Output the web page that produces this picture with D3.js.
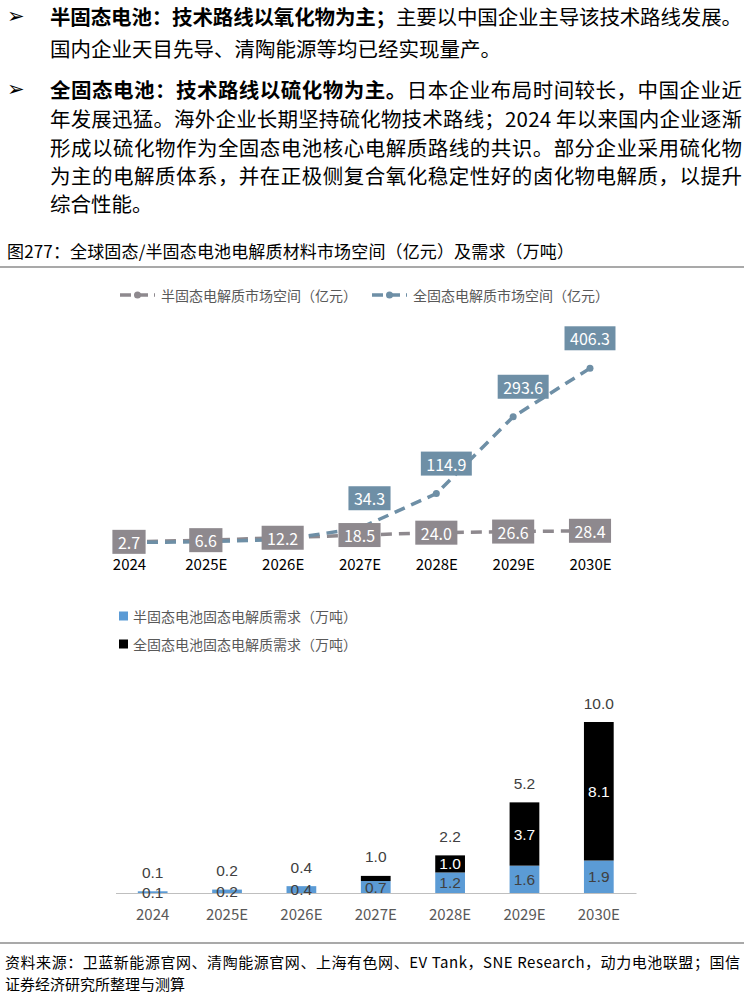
<!DOCTYPE html>
<html>
<head>
<meta charset="utf-8">
<script src="https://cdn.jsdelivr.net/npm/d3@7"></script>
<style>
	html, body { margin: 0; padding: 0; background: #fff; }
	svg { display: block; font-family: "Noto Sans CJK SC", "Noto Sans", sans-serif; }
</style>
</head>
<body>
<svg id="chart" width="744" height="1002"></svg>
<script>
// Categories
const years = ["2024", "2025E", "2026E", "2027E", "2028E", "2029E", "2030E"];

// Market size (亿元)
const semiMarket = [2.7, 6.6, 12.2, 18.5, 24.0, 26.6, 28.4];
const fullMarket = [1.0, 3.0, 8.0, 34.3, 114.9, 293.6, 406.3];

// Demand (万吨)
const semiDemand = [0.1, 0.2, 0.4, 0.7, 1.2, 1.6, 1.9];
const fullDemand = [0.0, 0.0, 0.0, 0.3, 1.0, 3.7, 8.1];
const totalDemand = [0.1, 0.2, 0.4, 1.0, 2.2, 5.2, 10.0];

// Legend names
const marketNames = ["半固态电解质市场空间（亿元）", "全固态电解质市场空间（亿元）"];
const demandNames = ["半固态电池固态电解质需求（万吨）", "全固态电池固态电解质需求（万吨）"];

// Text around the chart
const bodyLines = [
	{ bold: "半固态电池：技术路线以氧化物为主；", text: "主要以中国企业主导该技术路线发展。", justify: true },
	{ bold: "", text: "国内企业天目先导、清陶能源等均已经实现量产。", justify: false },
	{ bold: "全固态电池：技术路线以硫化物为主。", text: "日本企业布局时间较长，中国企业近", justify: true },
	{ bold: "", text: "年发展迅猛。海外企业长期坚持硫化物技术路线；2024 年以来国内企业逐渐", justify: true },
	{ bold: "", text: "形成以硫化物作为全固态电池核心电解质路线的共识。部分企业采用硫化物", justify: true },
	{ bold: "", text: "为主的电解质体系，并在正极侧复合氧化稳定性好的卤化物电解质，以提升", justify: true },
	{ bold: "", text: "综合性能。", justify: false }
];
const figureTitle = "图277：全球固态/半固态电池电解质材料市场空间（亿元）及需求（万吨）";
const sourceLines = [
	"资料来源：卫蓝新能源官网、清陶能源官网、上海有色网、EV Tank，SNE Research，动力电池联盟；国信",
	"证券经济研究所整理与测算"
];

const colours = {
	semiLine: "#8E898E",
	fullLine: "#6E8FA6",
	semiBar: "#5B9BD5",
	fullBar: "#000000",
	legendText: "#595959",
	rule: "#8C8C8C"
};

// numbers on the bars use a compact latin face
const numberFont = "Liberation Sans";

const svg = d3.select("#chart");

// ---- body text ----
const lineY = [16, 48, 89, 118, 147, 175, 203];
[0, 2].forEach((i) => {
	svg.append("text")
		.attr("x", 7).attr("y", lineY[i])
		.attr("dominant-baseline", "central")
		.style("font-family", "DejaVu Sans")
		.style("font-size", "21px")
		.style("font-weight", "bold")
		.text("➢");
});

bodyLines.forEach((line, i) => {
	let t = svg.append("text")
		.attr("x", 50).attr("y", lineY[i])
		.attr("dominant-baseline", "central")
		.style("font-size", "20.5px")
		.style("fill", "#000");
	if (line.bold) t.append("tspan").style("font-weight", "bold").text(line.bold);
	t.append("tspan").text(line.text);
	if (line.justify) t.attr("textLength", 692).attr("lengthAdjust", "spacing");
});

// ---- figure title ----
svg.append("text")
	.attr("x", 7).attr("y", 250)
	.attr("dominant-baseline", "central")
	.attr("textLength", 567).attr("lengthAdjust", "spacing")
	.style("font-size", "17px")
	.text(figureTitle);

svg.append("line")
	.attr("x1", 0).attr("x2", 744).attr("y1", 267).attr("y2", 267)
	.attr("stroke", colours.rule).attr("stroke-width", 1.5);

// ---- line chart: market size ----
const xLine = d3.scalePoint().domain(years).range([129, 590]);
const yLine = d3.scaleLinear().domain([0, 450]).range([543, 349.5]);

const lineGen = d3.line()
	.x((d, i) => xLine(years[i]))
	.y((d) => yLine(d));

const dash = "11,7";

// Legend for the lines
const lineLegend = [
	{ name: marketNames[0], colour: colours.semiLine, x: 120 },
	{ name: marketNames[1], colour: colours.fullLine, x: 372 }
];
lineLegend.forEach((item) => {
	let g = svg.append("g").attr("transform", `translate(${item.x}, 295)`);
	g.append("line")
		.attr("x1", 0).attr("x2", 35).attr("y1", 0).attr("y2", 0)
		.attr("stroke", item.colour).attr("stroke-width", 3.5)
		.attr("stroke-dasharray", "11,6");
	g.append("circle").attr("cx", 17.5).attr("cy", 0).attr("r", 3.5).attr("fill", item.colour);
	g.append("text")
		.attr("x", 41).attr("y", 0)
		.attr("dominant-baseline", "central")
		.style("font-size", "14px")
		.style("fill", colours.legendText)
		.text(item.name);
});

// semi line first, full line on top
svg.append("path")
	.datum(semiMarket)
	.attr("d", lineGen)
	.attr("fill", "none")
	.attr("stroke", colours.semiLine)
	.attr("stroke-width", 3.5)
	.attr("stroke-dasharray", dash);

svg.append("path")
	.datum(fullMarket)
	.attr("d", lineGen)
	.attr("fill", "none")
	.attr("stroke", colours.fullLine)
	.attr("stroke-width", 3.5)
	.attr("stroke-dasharray", dash);

svg.append("g")
	.selectAll("circle")
	.data(fullMarket)
	.enter()
	.append("circle")
	.attr("cx", (d, i) => xLine(years[i]))
	.attr("cy", (d) => yLine(d))
	.attr("r", 3.5)
	.attr("fill", colours.fullLine);

// Boxed value labels
function boxLabel(parent, cx, cy, value, fill) {
	let g = parent.append("g").attr("transform", `translate(${cx}, ${cy})`);
	let rect = g.append("rect").attr("fill", fill);
	let txt = g.append("text")
		.attr("text-anchor", "middle")
		.attr("dominant-baseline", "central")
		.style("font-size", "16px")
		.style("fill", "#fff")
		.text(value.toFixed(1));
	let w = txt.node().getComputedTextLength() + 11;
	rect.attr("x", -w / 2).attr("y", -12).attr("width", w).attr("height", 24);
}

const labelLayer = svg.append("g");
semiMarket.forEach((v, i) => {
	boxLabel(labelLayer, xLine(years[i]), yLine(v), v, colours.semiLine);
});
fullMarket.forEach((v, i) => {
	// full labels only where they sit clear of the semi line
	if (v <= semiMarket[i]) return;
	let dx = i === years.length - 1 ? 0 : 10;
	boxLabel(labelLayer, xLine(years[i]) + dx, yLine(v) - 30, v, colours.fullLine);
});

const lineAxis = svg.append("g")
	.attr("transform", "translate(0, 563)")
	.call(d3.axisBottom(xLine).tickSize(0).tickPadding(0));
lineAxis.select(".domain").remove();
lineAxis.selectAll("text")
	.attr("y", 0).attr("dy", null)
	.attr("dominant-baseline", "central")
	.style("font-family", "Noto Sans CJK SC")
	.style("font-size", "15px")
	.style("fill", "#000");

// ---- bar chart: demand ----
const demandRows = years.map((year, i) => ({ year: year, semi: semiDemand[i], full: fullDemand[i] }));
const stacked = d3.stack().keys(["semi", "full"])(demandRows);

const xBar = d3.scaleBand().domain(years).range([115.5, 636]).paddingInner(0.6).paddingOuter(0.3);
const yBar = d3.scaleLinear().domain([0, 10]).range([893, 722]);
const barColour = { semi: colours.semiBar, full: colours.fullBar };

// Legend for the bars
[{ name: demandNames[0], colour: colours.semiBar, y: 616 },
 { name: demandNames[1], colour: colours.fullBar, y: 644 }].forEach((item) => {
	svg.append("rect")
		.attr("x", 119).attr("y", item.y - 4.5)
		.attr("width", 9).attr("height", 9)
		.attr("fill", item.colour);
	svg.append("text")
		.attr("x", 133).attr("y", item.y)
		.attr("dominant-baseline", "central")
		.style("font-size", "14px")
		.style("fill", colours.legendText)
		.text(item.name);
});

const barGroups = svg.append("g")
	.selectAll("g")
	.data(stacked)
	.enter()
	.append("g")
	.attr("fill", (s) => barColour[s.key]);

barGroups.selectAll("rect")
	.data((s) => s)
	.enter()
	.append("rect")
	.attr("x", (d) => xBar(d.data.year))
	.attr("width", xBar.bandwidth())
	.attr("y", (d) => yBar(d[1]))
	.attr("height", (d) => yBar(d[0]) - yBar(d[1]));

const barAxis = svg.append("g")
	.attr("transform", "translate(0, 893)")
	.call(d3.axisBottom(xBar).tickSize(0).tickSizeOuter(0).tickPadding(0));
barAxis.select(".domain").attr("stroke", "#BFBFBF").attr("stroke-width", 1);
barAxis.selectAll("text")
	.attr("y", 20).attr("dy", null)
	.attr("dominant-baseline", "central")
	.style("font-family", "Noto Sans CJK SC")
	.style("font-size", "15px")
	.style("fill", colours.legendText);

// segment labels
const segLabels = svg.append("g")
	.attr("text-anchor", "middle")
	.style("font-family", numberFont)
	.style("font-size", "15.5px");

stacked.forEach((s) => {
	s.forEach((d) => {
		let value = d.data[s.key];
		let h = yBar(d[0]) - yBar(d[1]);
		if (s.key === "full" && h < 14) return;
		segLabels.append("text")
			.attr("x", xBar(d.data.year) + xBar.bandwidth() / 2)
			.attr("y", (yBar(d[0]) + yBar(d[1])) / 2)
			.attr("dominant-baseline", "central")
			.style("fill", s.key === "full" ? "#fff" : "#404040")
			.text(value.toFixed(1));
	});
});

// totals above the stacks
const topLayer = stacked[stacked.length - 1];
totalDemand.forEach((v, i) => {
	segLabels.append("text")
		.attr("x", xBar(years[i]) + xBar.bandwidth() / 2)
		.attr("y", yBar(topLayer[i][1]) - 19)
		.attr("dominant-baseline", "central")
		.style("fill", "#404040")
		.text(v.toFixed(1));
});

// ---- source ----
svg.append("line")
	.attr("x1", 0).attr("x2", 744).attr("y1", 943).attr("y2", 943)
	.attr("stroke", colours.rule).attr("stroke-width", 1.5);

sourceLines.forEach((line, i) => {
	let t = svg.append("text")
		.attr("x", 5).attr("y", 961 + i * 22)
		.attr("dominant-baseline", "central")
		.style("font-size", "15px")
		.text(line);
	if (i === 0) t.attr("textLength", 735).attr("lengthAdjust", "spacing");
});
</script>
</body>
</html>
